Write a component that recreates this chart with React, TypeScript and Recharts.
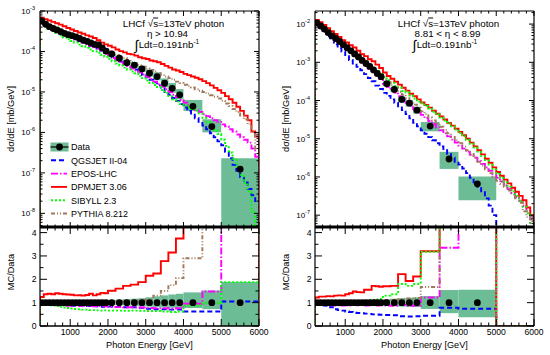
import React from 'react';
import { ComposedChart, Line, Scatter, XAxis, YAxis, ReferenceArea } from 'recharts';

const FONT = '"Liberation Sans", Arial, Helvetica, sans-serif';
const BOX = '#6cbc95';

const X_DOMAIN: [number, number] = [200, 6000];
const X_TICKS = Array.from({ length: 29 }, (_, i) => 400 + 200 * i);
const LOG_MINOR = [1, 2, 3, 4, 5, 6, 7, 8, 9];
const RATIO_LABELS = [0, 1, 2, 3, 4];
const RATIO_DOMAIN: [number, number] = [0, 4.24];

// MC histograms are filled in 100 GeV bins over the whole range
const FINE_EDGES = Array.from({ length: 59 }, (_, i) => 200 + 100 * i);

const MODELS = [
  { key: 'qgs', name: 'QGSJET II-04', color: '#0000ff', dash: '5 3' },
  { key: 'epos', name: 'EPOS-LHC', color: '#ff00ff', dash: '7 2 1.5 2' },
  { key: 'dpm', name: 'DPMJET 3.06', color: '#ff0000', dash: undefined },
  { key: 'sib', name: 'SIBYLL 2.3', color: '#00ff00', dash: '2 2' },
  { key: 'pyt', name: 'PYTHIA 8.212', color: '#a0785a', dash: '4 2 1 2 1 2' },
];

// ---------- eta > 10.94 ----------
const L_EDGES = [200, 300, 400, 500, 600, 700, 800, 900, 1000, 1100, 1200, 1300, 1400, 1500, 1600, 1700, 1800, 1900, 2000,
  2200, 2400, 2600, 2800, 3000, 3200, 3400, 3600, 3800, 4000, 4500, 5000, 6000];
const L_DATA = [5.6e-4, 4.7e-4, 4.1e-4, 3.7e-4, 3.4e-4, 3.1e-4, 2.8e-4, 2.6e-4, 2.45e-4, 2.3e-4, 2.1e-4, 1.9e-4, 1.78e-4, 1.62e-4, 1.5e-4, 1.45e-4, 1.23e-4, 1.02e-4,
  8.7e-5, 6.8e-5, 5.3e-5, 4.6e-5, 3.7e-5, 2.9e-5, 2.4e-5, 1.64e-5, 1.23e-5, 8.5e-6, 4.4e-6, 1.39e-6, 1.23e-7];
const L_UP = [0.04, 0.04, 0.04, 0.045, 0.045, 0.05, 0.05, 0.05, 0.055, 0.06, 0.06, 0.065, 0.07, 0.075, 0.08, 0.085, 0.09, 0.1,
  0.12, 0.13, 0.15, 0.17, 0.19, 0.23, 0.27, 0.31, 0.35, 0.38, 0.44, 0.52, 0.88];
const L_DOWN = [0.04, 0.04, 0.04, 0.045, 0.045, 0.05, 0.05, 0.05, 0.055, 0.06, 0.06, 0.065, 0.07, 0.075, 0.08, 0.085, 0.09, 0.1,
  0.1, 0.11, 0.12, 0.13, 0.15, 0.17, 0.19, 0.21, 0.22, 0.23, 0.23, 0.28, 1.0];

const L_QGS = [5.4e-4, 4.5e-4, 3.9e-4, 3.5e-4, 3.2e-4, 2.9e-4, 2.6e-4, 2.4e-4, 2.2e-4, 2.0e-4,
  1.82e-4, 1.66e-4, 1.51e-4, 1.38e-4, 1.29e-4, 1.17e-4, 1.05e-4, 9.1e-5, 7.9e-5, 7.1e-5,
  6.3e-5, 5.6e-5, 5.0e-5, 4.5e-5, 4.1e-5, 3.6e-5, 3.1e-5, 2.6e-5, 2.3e-5, 2.0e-5,
  1.74e-5, 1.45e-5, 1.2e-5, 1.0e-5, 8.5e-6, 7.1e-6, 6.0e-6, 5.0e-6, 4.2e-6, 3.4e-6,
  2.75e-6, 2.24e-6, 1.82e-6, 1.48e-6, 1.2e-6, 9.5e-7, 7.6e-7, 6.0e-7, 4.8e-7, 3.3e-7,
  2.3e-7, 1.58e-7, 1.12e-7, 7.9e-8, 5.8e-8, 4.0e-8, 2.8e-8, 2.0e-8];
const L_EPOS = [5.4e-4, 4.5e-4, 3.8e-4, 3.4e-4, 3.0e-4, 2.75e-4, 2.5e-4, 2.3e-4, 2.15e-4, 2.0e-4,
  1.82e-4, 1.66e-4, 1.51e-4, 1.38e-4, 1.26e-4, 1.17e-4, 1.05e-4, 8.9e-5, 7.6e-5, 6.9e-5,
  6.0e-5, 5.4e-5, 4.8e-5, 4.3e-5, 3.8e-5, 3.4e-5, 3.0e-5, 2.7e-5, 2.35e-5, 2.05e-5,
  1.78e-5, 1.55e-5, 1.35e-5, 1.17e-5, 1.0e-5, 8.5e-6, 7.4e-6, 6.3e-6, 5.4e-6, 4.7e-6,
  4.1e-6, 3.5e-6, 3.2e-6, 2.8e-6, 2.5e-6, 2.24e-6, 2.0e-6, 1.82e-6, 1.58e-6, 1.41e-6,
  1.2e-6, 1.05e-6, 8.9e-7, 7.6e-7, 6.6e-7, 5.6e-7, 4.0e-7, 2.5e-7];
const L_DPM = [6.8e-4, 6.3e-4, 5.8e-4, 5.4e-4, 5.0e-4, 4.6e-4, 4.2e-4, 3.8e-4, 3.5e-4, 3.2e-4,
  2.95e-4, 2.75e-4, 2.5e-4, 2.35e-4, 2.15e-4, 1.9e-4, 1.65e-4, 1.5e-4, 1.38e-4, 1.26e-4,
  1.12e-4, 1.02e-4, 9.5e-5, 8.7e-5, 8.5e-5, 7.9e-5, 7.2e-5, 6.8e-5, 6.5e-5, 6.0e-5,
  5.75e-5, 5.4e-5, 4.9e-5, 4.4e-5, 4.0e-5, 3.6e-5, 3.4e-5, 3.1e-5, 2.8e-5, 2.6e-5,
  2.4e-5, 2.25e-5, 2.05e-5, 1.85e-5, 1.65e-5, 1.45e-5, 1.26e-5, 1.1e-5, 9.5e-6, 7.9e-6,
  6.6e-6, 5.4e-6, 4.3e-6, 3.4e-6, 2.6e-6, 2.0e-6, 1.05e-6, 7.9e-7];
const L_SIB = [5.0e-4, 4.2e-4, 3.6e-4, 3.2e-4, 2.9e-4, 2.5e-4, 2.24e-4, 2.0e-4, 1.82e-4, 1.66e-4,
  1.48e-4, 1.35e-4, 1.23e-4, 1.12e-4, 1.02e-4, 9.3e-5, 8.3e-5, 7.4e-5, 6.6e-5, 5.75e-5,
  5.0e-5, 4.5e-5, 4.0e-5, 3.6e-5, 3.2e-5, 2.9e-5, 2.5e-5, 2.2e-5, 1.9e-5, 1.66e-5,
  1.48e-5, 1.32e-5, 1.12e-5, 9.5e-6, 7.9e-6, 6.6e-6, 5.75e-6, 5.0e-6, 4.6e-6, 4.2e-6,
  3.8e-6, 3.4e-6, 2.95e-6, 2.3e-6, 1.82e-6, 1.45e-6, 1.15e-6, 9.1e-7, 6.6e-7, 4.6e-7,
  3.2e-7, 2.24e-7, 1.41e-7, 8.9e-8, 5.6e-8, 3.5e-8, 1.1e-8, 2.5e-9];
const L_PYT = [6.0e-4, 4.9e-4, 4.2e-4, 3.7e-4, 3.4e-4, 3.1e-4, 2.8e-4, 2.6e-4, 2.45e-4, 2.3e-4,
  2.1e-4, 1.9e-4, 1.74e-4, 1.58e-4, 1.45e-4, 1.32e-4, 1.2e-4, 1.1e-4, 1.0e-4, 9.1e-5,
  8.1e-5, 7.4e-5, 6.8e-5, 6.2e-5, 5.5e-5, 5.1e-5, 4.6e-5, 4.2e-5, 3.8e-5, 3.5e-5,
  3.2e-5, 2.9e-5, 2.6e-5, 2.4e-5, 2.2e-5, 2.0e-5, 1.8e-5, 1.66e-5, 1.5e-5, 1.38e-5,
  1.29e-5, 1.17e-5, 1.07e-5, 1.0e-5, 9.1e-6, 8.3e-6, 7.6e-6, 6.9e-6, 6.0e-6, 5.2e-6,
  4.5e-6, 3.8e-6, 3.2e-6, 2.6e-6, 2.1e-6, 1.6e-6, 1.0e-6, 4.0e-7];

const LR_QGS = [0.98, 0.97, 0.96, 0.96, 0.95, 0.94, 0.92, 0.9, 0.88, 0.87, 0.86, 0.86, 0.85, 0.85, 0.86, 0.84, 0.82, 0.84,
  0.83, 0.82, 0.8, 0.8, 0.78, 0.74, 0.72, 0.72, 0.7, 0.7, 0.62, 0.62, 1.05];
const LR_EPOS = [0.95, 0.95, 0.93, 0.9, 0.89, 0.88, 0.88, 0.87, 0.87, 0.86, 0.86, 0.86, 0.85, 0.85, 0.84, 0.85, 0.85, 0.84,
  0.82, 0.81, 0.8, 0.8, 0.79, 0.77, 0.76, 0.76, 0.75, 0.76, 0.95, 1.48, 8];
const LR_DPM = [1.24, 1.36, 1.38, 1.36, 1.4, 1.38, 1.36, 1.35, 1.34, 1.31, 1.32, 1.3, 1.33, 1.38, 1.31, 1.36, 1.42, 1.4,
  1.51, 1.6, 1.72, 1.77, 1.88, 2.15, 2.25, 2.78, 3.15, 3.75, 6, 9, 20];
const LR_SIB = [0.92, 0.92, 0.9, 0.88, 0.85, 0.82, 0.79, 0.77, 0.75, 0.73, 0.72, 0.7, 0.7, 0.68, 0.68, 0.67, 0.66, 0.67,
  0.66, 0.66, 0.65, 0.66, 0.65, 0.64, 0.64, 0.62, 0.6, 0.62, 0.88, 0.98, 1.88];
const LR_PYT = [1.0, 0.98, 0.99, 1.0, 1.0, 0.99, 1.0, 1.0, 1.0, 1.01, 1.0, 1.0, 1.0, 1.01, 1.02, 1.0, 1.02, 1.03,
  1.05, 1.05, 1.07, 1.09, 1.1, 1.15, 1.3, 1.5, 1.75, 2.05, 2.9, 6, 25];

// ---------- 8.81 < eta < 8.99 ----------
const R_EDGES = [200, 300, 400, 500, 600, 700, 800, 900, 1000, 1100, 1200, 1300, 1400, 1500, 1600, 1700, 1800, 1900, 2000,
  2200, 2400, 2600, 2800, 3000, 3500, 4000, 5000];
const R_RATIO_EDGES = [...R_EDGES, 6000];
const R_DATA = [1.07e-2, 8.9e-3, 7.4e-3, 6.0e-3, 4.9e-3, 4.2e-3, 3.5e-3, 2.9e-3, 2.4e-3, 2.0e-3, 1.66e-3, 1.38e-3, 1.12e-3, 9.3e-4, 7.8e-4, 6.3e-4, 5.1e-4, 4.2e-4,
  2.75e-4, 1.95e-4, 1.07e-4, 8.5e-5, 5.6e-5, 2.14e-5, 2.95e-6, 6.6e-7];
const R_UP = [0.03, 0.03, 0.03, 0.035, 0.035, 0.04, 0.04, 0.04, 0.045, 0.05, 0.05, 0.055, 0.06, 0.065, 0.07, 0.08, 0.09, 0.1,
  0.15, 0.17, 0.19, 0.21, 0.23, 0.28, 0.54, 0.55];
const R_DOWN = [0.03, 0.03, 0.03, 0.035, 0.035, 0.04, 0.04, 0.04, 0.045, 0.05, 0.05, 0.055, 0.06, 0.065, 0.07, 0.08, 0.09, 0.1,
  0.13, 0.15, 0.17, 0.18, 0.19, 0.27, 0.45, 0.63];

const R_QGS = [1.02e-2, 8.1e-3, 6.3e-3, 4.8e-3, 3.9e-3, 2.95e-3, 2.35e-3, 1.9e-3, 1.45e-3, 1.15e-3,
  9.3e-4, 7.6e-4, 6.2e-4, 4.9e-4, 3.9e-4, 3.2e-4, 2.45e-4, 2.0e-4, 1.58e-4, 1.32e-4,
  1.07e-4, 8.7e-5, 7.1e-5, 5.6e-5, 4.4e-5, 3.4e-5, 2.6e-5, 2.1e-5, 1.66e-5, 1.35e-5,
  1.1e-5, 9.1e-6, 7.6e-6, 6.3e-6, 5.0e-6, 4.0e-6, 3.2e-6, 2.5e-6, 2.1e-6, 1.66e-6,
  1.26e-6, 9.5e-7, 7.2e-7, 5.5e-7, 4.0e-7, 2.75e-7, 1.78e-7, 1.0e-7, 2.5e-8, 1e-10,
  1e-10, 1e-10, 1e-10, 1e-10, 1e-10, 1e-10, 1e-10, 1e-10];
const R_EPOS = [1.0e-2, 7.9e-3, 6.6e-3, 5.4e-3, 4.5e-3, 3.7e-3, 3.1e-3, 2.6e-3, 2.15e-3, 1.78e-3,
  1.48e-3, 1.23e-3, 1.0e-3, 8.3e-4, 6.9e-4, 5.6e-4, 4.6e-4, 3.7e-4, 2.75e-4, 2.3e-4,
  1.95e-4, 1.62e-4, 1.3e-4, 1.08e-4, 8.7e-5, 7.2e-5, 6.0e-5, 5.0e-5, 4.2e-5, 3.5e-5,
  2.9e-5, 2.4e-5, 2.0e-5, 1.66e-5, 1.38e-5, 1.15e-5, 9.5e-6, 7.9e-6, 6.6e-6, 5.5e-6,
  4.6e-6, 3.8e-6, 3.2e-6, 2.6e-6, 2.2e-6, 1.78e-6, 1.45e-6, 1.17e-6, 9.5e-7, 7.6e-7,
  6.0e-7, 4.8e-7, 3.8e-7, 3.0e-7, 2.4e-7, 1.78e-7, 1.26e-7, 7.9e-8];
const R_DPM = [1.29e-2, 1.12e-2, 9.5e-3, 7.8e-3, 6.5e-3, 5.5e-3, 4.6e-3, 3.8e-3, 3.3e-3, 2.8e-3,
  2.45e-3, 2.0e-3, 1.62e-3, 1.45e-3, 1.2e-3, 1.07e-3, 8.7e-4, 7.1e-4, 5.4e-4, 4.4e-4,
  3.7e-4, 3.1e-4, 2.6e-4, 2.15e-4, 1.82e-4, 1.51e-4, 1.29e-4, 1.07e-4, 8.9e-5, 7.6e-5,
  6.5e-5, 5.4e-5, 4.5e-5, 3.8e-5, 3.2e-5, 2.6e-5, 2.2e-5, 1.82e-5, 1.51e-5, 1.23e-5,
  1.0e-5, 7.9e-6, 6.3e-6, 5.0e-6, 3.9e-6, 3.0e-6, 2.35e-6, 1.78e-6, 1.35e-6, 1.07e-6,
  8.5e-7, 6.8e-7, 5.2e-7, 4.1e-7, 3.2e-7, 2.45e-7, 1.58e-7, 1.0e-7];
const R_SIB = [1.02e-2, 8.7e-3, 7.2e-3, 6.0e-3, 5.0e-3, 4.3e-3, 3.55e-3, 3.0e-3, 2.5e-3, 2.15e-3,
  1.78e-3, 1.51e-3, 1.23e-3, 1.02e-3, 8.7e-4, 7.2e-4, 5.9e-4, 4.9e-4, 4.1e-4, 3.4e-4,
  2.9e-4, 2.4e-4, 2.15e-4, 1.78e-4, 1.62e-4, 1.35e-4, 1.12e-4, 9.3e-5, 8.5e-5, 7.2e-5,
  6.2e-5, 5.1e-5, 4.3e-5, 3.6e-5, 3.0e-5, 2.5e-5, 2.1e-5, 1.74e-5, 1.41e-5, 1.15e-5,
  9.3e-6, 7.4e-6, 5.9e-6, 4.6e-6, 3.5e-6, 2.75e-6, 2.1e-6, 1.58e-6, 1.2e-6, 9.3e-7,
  7.2e-7, 5.5e-7, 4.2e-7, 3.2e-7, 2.35e-7, 1.66e-7, 1.12e-7, 6.3e-8];
const R_PYT = [1.07e-2, 8.9e-3, 7.4e-3, 6.2e-3, 5.1e-3, 4.3e-3, 3.55e-3, 2.95e-3, 2.5e-3, 2.1e-3,
  1.74e-3, 1.45e-3, 1.2e-3, 1.0e-3, 8.3e-4, 6.9e-4, 5.6e-4, 4.6e-4, 3.6e-4, 3.0e-4,
  2.5e-4, 2.1e-4, 1.7e-4, 1.41e-4, 1.15e-4, 9.5e-5, 7.8e-5, 6.5e-5, 5.2e-5, 4.4e-5,
  3.6e-5, 3.0e-5, 2.5e-5, 2.05e-5, 1.7e-5, 1.38e-5, 1.12e-5, 9.1e-6, 7.6e-6, 6.2e-6,
  5.0e-6, 4.0e-6, 3.2e-6, 2.5e-6, 2.0e-6, 1.58e-6, 1.26e-6, 1.0e-6, 7.9e-7, 6.6e-7,
  5.5e-7, 4.4e-7, 3.5e-7, 2.75e-7, 2.1e-7, 1.26e-7, 8.9e-8, 6.3e-8];

const RR_QGS = [0.96, 0.93, 0.88, 0.82, 0.8, 0.72, 0.68, 0.66, 0.62, 0.6, 0.57, 0.56, 0.55, 0.53, 0.52, 0.5, 0.49, 0.48,
  0.47, 0.46, 0.42, 0.41, 0.42, 0.44, 0.78, 0.74, 0];
const RR_EPOS = [0.93, 0.9, 0.9, 0.89, 0.9, 0.88, 0.89, 0.88, 0.89, 0.88, 0.9, 0.89, 0.9, 0.88, 0.89, 0.9, 0.88, 0.89,
  0.88, 0.86, 0.9, 0.87, 0.88, 1.22, 3.35, 8, 0];
const RR_DPM = [1.22, 1.26, 1.26, 1.28, 1.27, 1.3, 1.31, 1.3, 1.36, 1.4, 1.48, 1.45, 1.44, 1.55, 1.55, 1.72, 1.7, 1.68,
  1.7, 1.72, 2.22, 1.93, 2.12, 3.2, 6, 12, 0];
const RR_SIB = [0.96, 0.97, 0.98, 0.98, 0.99, 0.99, 1.0, 1.0, 1.02, 1.03, 1.05, 1.06, 1.07, 1.08, 1.1, 1.12, 1.14, 1.16,
  1.3, 1.36, 1.8, 1.72, 1.8, 3.18, 6, 10, 0];
const RR_PYT = [1.0, 1.0, 0.99, 1.0, 1.0, 1.01, 1.0, 1.02, 1.03, 1.04, 1.05, 1.06, 1.07, 1.08, 1.08, 1.09, 1.1, 1.1,
  1.12, 1.12, 1.15, 1.18, 1.2, 1.67, 5, 10, 0];

type Panel = {
  left: number;
  yDomain: [number, number];
  decades: number[];
  edges: number[];
  data: number[];
  up: number[];
  down: number[];
  mc: Record<string, number[]>;
  ratioEdges: number[];
  ratio: Record<string, number[]>;
};

const PANELS: Panel[] = [
  {
    left: 0, yDomain: [4.6e-9, 1e-3], decades: [-9, -8, -7, -6, -5, -4, -3],
    edges: L_EDGES, data: L_DATA, up: L_UP, down: L_DOWN,
    mc: { qgs: L_QGS, epos: L_EPOS, dpm: L_DPM, sib: L_SIB, pyt: L_PYT },
    ratioEdges: L_EDGES,
    ratio: { qgs: LR_QGS, epos: LR_EPOS, dpm: LR_DPM, sib: LR_SIB, pyt: LR_PYT },
  },
  {
    left: 275, yDomain: [4.9e-8, 2.2e-2], decades: [-8, -7, -6, -5, -4, -3, -2],
    edges: R_EDGES, data: R_DATA, up: R_UP, down: R_DOWN,
    mc: { qgs: R_QGS, epos: R_EPOS, dpm: R_DPM, sib: R_SIB, pyt: R_PYT },
    ratioEdges: R_RATIO_EDGES,
    ratio: { qgs: RR_QGS, epos: RR_EPOS, dpm: RR_DPM, sib: RR_SIB, pyt: RR_PYT },
  },
];

// histogram outline, starting and ending on the baseline like ROOT's HIST option
function steps(edges: number[], vals: number[], base: number) {
  const pts = [{ x: edges[0], y: base }];
  vals.forEach((v, i) => {
    pts.push({ x: edges[i], y: v }, { x: edges[i + 1], y: v });
  });
  pts.push({ x: edges[vals.length], y: base });
  return pts;
}

const xTick = (side: 'top' | 'bottom', len: number, labels: boolean) => (props: any) => {
  const { x, y, payload } = props;
  const v = payload.value as number;
  const major = v % 1000 === 0;
  const l = major ? len : len * 0.5;
  const d = side === 'bottom' ? -1 : 1;
  return (
    <g>
      <line x1={x} x2={x} y1={y} y2={y + d * l} stroke="#000" strokeWidth={1} />
      {labels && major ? (
        <text x={x} y={y + 9} textAnchor="middle" fontSize={8.6} fontFamily={FONT} fill="#000">{v}</text>
      ) : null}
    </g>
  );
};

const yTick = (side: 'left' | 'right', len: number, labels: boolean, log: boolean) => (props: any) => {
  const { x, y, payload } = props;
  const v = payload.value as number;
  let major: boolean;
  let exp = 0;
  if (log) {
    exp = Math.round(Math.log10(v));
    major = Math.abs(v / Math.pow(10, exp) - 1) < 1e-6;
  } else {
    major = Math.abs(v - Math.round(v)) < 1e-6;
  }
  const l = major ? len : len * 0.5;
  const d = side === 'left' ? 1 : -1;
  let label = null;
  if (labels && major) {
    label = log ? (
      <text x={x - 5} y={y + 3} textAnchor="end" fontSize={8} fontFamily={FONT} fill="#000">
        10<tspan fontSize={5.5} dy={-4}>{exp}</tspan>
      </text>
    ) : (
      <text x={x - 3.5} y={y + 3} textAnchor="end" fontSize={8.6} fontFamily={FONT} fill="#000">{v}</text>
    );
  }
  return (
    <g>
      <line x1={x} x2={x + d * l} y1={y} y2={y} stroke="#000" strokeWidth={1} />
      {label}
    </g>
  );
};

function axes(yDomain: [number, number], yTicks: number[], log: boolean, xLabels: boolean,
  topH: number, bottomH: number, topWidth: number, len: number) {
  const common = { type: 'number' as const, allowDataOverflow: true, interval: 0 as const, tickSize: 0, tickMargin: 0, tickLine: false };
  return [
    <XAxis key="xb" xAxisId="b" dataKey="x" domain={X_DOMAIN} ticks={X_TICKS} height={bottomH} {...common}
      axisLine={{ stroke: '#000', strokeWidth: 1.5 }} tick={xTick('bottom', len, xLabels)} />,
    <XAxis key="xt" xAxisId="t" orientation="top" dataKey="x" domain={X_DOMAIN} ticks={X_TICKS} height={topH} {...common}
      axisLine={{ stroke: '#000', strokeWidth: topWidth }} tick={xTick('top', len, false)} />,
    <YAxis key="yl" yAxisId="l" dataKey="y" scale={log ? 'log' : 'linear'} domain={yDomain} ticks={yTicks} width={40} {...common}
      axisLine={{ stroke: '#000', strokeWidth: 1.2 }} tick={yTick('left', len, true, log)} />,
    <YAxis key="yr" yAxisId="r" orientation="right" dataKey="y" scale={log ? 'log' : 'linear'} domain={yDomain} ticks={yTicks} width={16} {...common}
      axisLine={{ stroke: '#000', strokeWidth: 1.2 }} tick={yTick('right', len, false, log)} />,
  ];
}

const dotShape = (s: any) => <circle cx={s.cx} cy={s.cy} r={3.4} fill="#000" />;

function UpperPad({ p }: { p: Panel }) {
  const [ymin, ymax] = p.yDomain;
  const yTicks = p.decades
    .flatMap((e) => LOG_MINOR.map((m) => m * Math.pow(10, e)))
    .filter((v) => v >= ymin && v <= ymax * 1.0001);
  const points = p.data.map((v, i) => ({ x: (p.edges[i] + p.edges[i + 1]) / 2, y: v }));
  return (
    <ComposedChart width={275} height={240} margin={{ top: 0, right: 0, bottom: 0, left: 0 }}>
      {axes(p.yDomain, yTicks, true, false, 11, 13, 1.2, 5)}
      {p.data.map((v, i) => (
        <ReferenceArea key={'box' + i} xAxisId="b" yAxisId="l" x1={p.edges[i]} x2={p.edges[i + 1]}
          y1={Math.max(v * (1 - p.down[i]), ymin)} y2={Math.min(v * (1 + p.up[i]), ymax)}
          fill={BOX} fillOpacity={1} stroke="none" ifOverflow="hidden" />
      ))}
      {MODELS.map((m) => (
        <Line key={m.key} xAxisId="b" yAxisId="l" data={steps(FINE_EDGES, p.mc[m.key], 1e-12)} dataKey="y"
          type="linear" stroke={m.color} strokeWidth={1.9} strokeDasharray={m.dash}
          dot={false} activeDot={false} isAnimationActive={false} />
      ))}
      <Scatter xAxisId="b" yAxisId="l" data={points} dataKey="y" shape={dotShape} isAnimationActive={false} />
    </ComposedChart>
  );
}

function RatioPad({ p }: { p: Panel }) {
  const yTicks = RATIO_LABELS.flatMap((v) => [v, v + 0.5]).filter((v) => v <= RATIO_DOMAIN[1]);
  const points = p.data.map((_, i) => ({ x: (p.edges[i] + p.edges[i + 1]) / 2, y: 1 }));
  return (
    <ComposedChart width={275} height={125} margin={{ top: 0, right: 0, bottom: 0, left: 0 }}>
      {axes(RATIO_DOMAIN, yTicks, false, true, 7, 19, 3, 7)}
      {p.data.map((_, i) => (
        <ReferenceArea key={'band' + i} xAxisId="b" yAxisId="l" x1={p.edges[i]} x2={p.edges[i + 1]}
          y1={1 - p.down[i]} y2={1 + p.up[i]} fill={BOX} fillOpacity={1} stroke="none" ifOverflow="hidden" />
      ))}
      {MODELS.map((m) => (
        <Line key={m.key} xAxisId="b" yAxisId="l" data={steps(p.ratioEdges, p.ratio[m.key], 0)} dataKey="y"
          type="linear" stroke={m.color} strokeWidth={1.9} strokeDasharray={m.dash}
          dot={false} activeDot={false} isAnimationActive={false} />
      ))}
      <Scatter xAxisId="b" yAxisId="l" data={points} dataKey="y" shape={dotShape} isAnimationActive={false} />
    </ComposedChart>
  );
}

const LEGEND_Y = [147, 160.3, 173.6, 186.9, 200.2, 213.5];

function Overlay() {
  const t = { fontFamily: FONT, fill: '#000' };
  return (
    <svg width={550} height={355} style={{ position: 'absolute', left: 0, top: 0, pointerEvents: 'none' }}>
      {[0, 275].map((dx) => (
        <g key={dx} {...t}>
          <text transform={`translate(${14 + dx},119) rotate(-90)`} textAnchor="middle" fontSize={9.2}>dσ/dE [mb/GeV]</text>
          <text transform={`translate(${14 + dx},272) rotate(-90)`} textAnchor="middle" fontSize={9.2}>MC/Data</text>
          <text x={149.5 + dx} y={347.5} textAnchor="middle" fontSize={9.2}>Photon Energy [GeV]</text>
          <text x={dx === 0 ? 173.5 : 448.5} y={26.5} textAnchor="middle" fontSize={9.8}>
            LHCf √<tspan style={{ textDecoration: 'overline' }}>s</tspan>=13TeV photon
          </text>
        </g>
      ))}
      <g {...t}>
        <text x={167.5} y={37} textAnchor="middle" fontSize={9.8}>η &gt; 10.94</text>
        <text x={447.5} y={37} textAnchor="middle" fontSize={9.8}>8.81 &lt; η &lt; 8.99</text>
        {[167, 445].map((cx) => (
          <text key={cx} x={cx} y={47.5} textAnchor="middle" fontSize={9.8}>
            <tspan fontSize={14} dy={2}>∫</tspan>
            <tspan dy={-2}>Ldt=0.191nb</tspan>
            <tspan fontSize={6.5} dy={-4}>-1</tspan>
          </text>
        ))}
      </g>
      <g {...t}>
        <rect x={50.5} y={142.5} width={18} height={9} fill={BOX} />
        <line x1={50.5} x2={68.5} y1={147} y2={147} stroke="#000" strokeWidth={1.2} />
        <circle cx={59.5} cy={147} r={3.4} fill="#000" />
        <text x={71} y={150.3} fontSize={9}>Data</text>
        {MODELS.map((m, i) => (
          <g key={m.key}>
            <line x1={51} x2={67} y1={LEGEND_Y[i + 1]} y2={LEGEND_Y[i + 1]} stroke={m.color} strokeWidth={1.9} strokeDasharray={m.dash} />
            <text x={71} y={LEGEND_Y[i + 1] + 3.3} fontSize={9}>{m.name}</text>
          </g>
        ))}
      </g>
    </svg>
  );
}

export default function App() {
  return (
    <div style={{ position: 'absolute', left: 0, top: 0, width: 550, height: 355, background: '#fff', overflow: 'hidden' }}>
      {PANELS.map((p) => (
        <React.Fragment key={p.left}>
          <div style={{ position: 'absolute', left: p.left, top: 0 }}>
            <UpperPad p={p} />
          </div>
          <div style={{ position: 'absolute', left: p.left, top: 220 }}>
            <RatioPad p={p} />
          </div>
        </React.Fragment>
      ))}
      <Overlay />
    </div>
  );
}
